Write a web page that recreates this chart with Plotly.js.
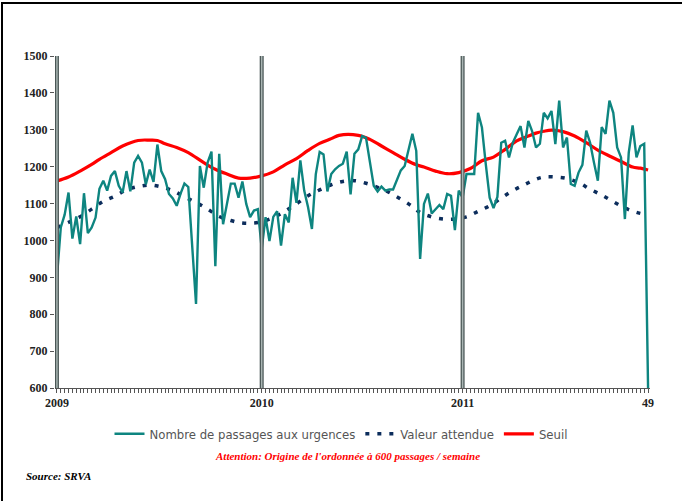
<!DOCTYPE html>
<html>
<head>
<meta charset="utf-8">
<script src="https://cdn.plot.ly/plotly-3.0.1.min.js"></script>
<style>
  html, body { margin: 0; padding: 0; background: #fff; }
  #wrap { position: relative; width: 682px; height: 501px; }
  #chart { width: 682px; height: 501px; }
  #frame { position: absolute; left: 1px; top: 2px; width: 681px; height: 499px;
           border-top: 2px solid #000; border-left: 2px solid #000; pointer-events: none; box-sizing: border-box; }
</style>
</head>
<body>
<div id="wrap">
  <div id="chart"></div>
  <div id="frame"></div>
</div>
<script>
// Weekly number of emergency visits, 2009 week 1 to 2011 week 49 (154 weeks)
const visits = [
  900, 1035, 1070, 1130, 1005, 1065, 990, 1128, 1020, 1035,
  1062, 1140, 1162, 1135, 1175, 1188, 1148, 1130, 1188, 1133,
  1211, 1229, 1211, 1152, 1192, 1159, 1260, 1188, 1166, 1126,
  1114, 1094, 1127, 1154, 1145, 1000, 828, 1202, 1143, 1211,
  1241, 930, 1235, 1044, 1094, 1154, 1154, 1116, 1160, 1099,
  1063, 1081, 1085, 977, 1063, 998, 1064, 1079, 986, 1071,
  1049, 1170, 1102, 1217, 1135, 1090, 1031, 1180, 1240, 1233,
  1133, 1180, 1193, 1202, 1208, 1241, 1125, 1235, 1247, 1283,
  1278, 1206, 1148, 1133, 1146, 1135, 1138, 1138, 1163, 1190,
  1202, 1243, 1289, 1243, 950, 1099, 1127, 1073, 1085, 1096,
  1085, 1126, 1121, 1028, 1135, 1116, 1180, 1180, 1180, 1346,
  1306, 1206, 1116, 1088, 1118, 1265, 1270, 1225, 1265, 1288,
  1310, 1252, 1324, 1296, 1252, 1262, 1346, 1331, 1351, 1261,
  1379, 1252, 1279, 1153, 1148, 1184, 1205, 1298, 1265, 1211,
  1162, 1307, 1289, 1379, 1346, 1252, 1225, 1058, 1238, 1312,
  1225, 1256, 1262, 600
];

// Threshold (Seuil), read at these week indices
const seuilWeeks = [0, 3, 6, 9, 11, 14, 17, 21, 24, 26, 28, 31, 34, 38, 41, 44, 47, 50, 53, 56,
  59, 62, 65, 68, 71, 73, 78, 81, 84, 87, 90, 93, 95, 98, 101, 104, 107, 110, 113, 116,
  119, 122, 124, 126, 128, 131, 134, 137, 140, 143, 146, 149, 151, 153];
const seuilValues = [1161, 1172, 1188, 1206, 1220, 1238, 1256, 1271, 1272, 1271, 1262, 1252, 1238, 1211, 1193, 1180, 1169, 1169, 1175, 1186,
  1205, 1222, 1244, 1263, 1276, 1285, 1285, 1274, 1256, 1238, 1220, 1205, 1199, 1188, 1181, 1184, 1195, 1216, 1226, 1247,
  1270, 1283, 1291, 1296, 1299, 1295, 1283, 1265, 1245, 1229, 1214, 1199, 1196, 1191];

// Expected value (Valeur attendue), read at these week indices
const attWeeks = [0, 3, 6, 9, 12, 15, 18, 21, 24, 27, 30, 33, 36, 39, 42, 45, 48, 51, 53, 56,
  59, 62, 65, 68, 71, 74, 77, 80, 83, 86, 89, 92, 94, 97, 100, 103, 106, 109, 112, 115,
  118, 121, 124, 126, 129, 132, 135, 138, 141, 144, 147, 150, 153];
const attValues = [1035, 1049, 1064, 1085, 1106, 1120, 1137, 1146, 1150, 1145, 1135, 1118, 1103, 1085, 1065, 1054, 1047, 1047, 1051, 1062,
  1079, 1099, 1121, 1137, 1151, 1160, 1162, 1155, 1144, 1130, 1112, 1092, 1076, 1064, 1058, 1058, 1064, 1079, 1094, 1115,
  1135, 1151, 1166, 1172, 1172, 1168, 1157, 1139, 1123, 1105, 1088, 1076, 1069];

// x-axis labels
const labelWeeks = [0, 53, 105, 153];
const labelTexts = ['2009', '2010', '2011', '49'];
const yearStarts = [0, 53, 105];

const seriesNames = ['Nombre de passages aux urgences', 'Valeur attendue', 'Seuil'];

const weekIdx = visits.map((_, i) => i);
const tickText = weekIdx.map(i => { const k = labelWeeks.indexOf(i); return k >= 0 ? labelTexts[k] : ''; });

const traces = [
  { x: seuilWeeks, y: seuilValues, name: seriesNames[2], type: 'scatter', mode: 'lines',
    line: { color: '#ff0000', width: 3.2, shape: 'spline', smoothing: 1 }, legendrank: 3 },
  { x: attWeeks, y: attValues, name: seriesNames[1], type: 'scatter', mode: 'lines',
    line: { color: '#0c2d5c', width: 3.5, dash: '4px,8px', shape: 'spline', smoothing: 1 }, legendrank: 2 },
  { x: weekIdx, y: visits, name: seriesNames[0], type: 'scatter', mode: 'lines',
    line: { color: '#0e8580', width: 2.4 }, legendrank: 1 }
];

const shapes = [];
yearStarts.forEach(w => {
  shapes.push({ type: 'line', xref: 'x', yref: 'paper', x0: w, x1: w, y0: 0, y1: 1, layer: 'above',
    line: { color: '#4a5756', width: 4 } });
  shapes.push({ type: 'line', xref: 'x', yref: 'paper', x0: w, x1: w, y0: 0, y1: 1, layer: 'above',
    line: { color: '#a9b5b3', width: 1.5 } });
});

const layout = {
  width: 682, height: 501,
  margin: { l: 55, r: 32, t: 56, b: 113 },
  paper_bgcolor: '#ffffff', plot_bgcolor: '#ffffff',
  showlegend: true,
  xaxis: {
    range: [-0.5, 153.5], showgrid: false, zeroline: false,
    showline: true, linecolor: '#555', linewidth: 1,
    tickmode: 'array', tickvals: weekIdx, ticktext: tickText,
    ticks: 'outside', ticklen: 4, tickwidth: 1, tickcolor: '#555',
    tickfont: { family: 'Liberation Serif, serif', size: 12, color: '#222', weight: 'bold' }
  },
  yaxis: {
    range: [600, 1500], dtick: 100, tick0: 600, showgrid: false, zeroline: false,
    showline: false, ticks: 'outside', ticklen: 4, tickwidth: 1, tickcolor: '#555',
    tickfont: { family: 'Liberation Serif, serif', size: 12, color: '#222', weight: 'bold' }
  },
  legend: {
    orientation: 'h', xref: 'container', yref: 'container',
    x: 0.5, xanchor: 'center', y: 0.134, yanchor: 'middle',
    font: { family: 'DejaVu Sans Condensed, Open Sans, sans-serif', size: 13, color: '#555' },
    bgcolor: 'rgba(0,0,0,0)'
  },
  shapes: shapes,
  annotations: [
    { xref: 'paper', yref: 'paper', x: 0.4924, y: -0.2048, xanchor: 'center', yanchor: 'middle',
      showarrow: false, text: "Attention: Origine de l'ordonnée à 600 passages / semaine",
      font: { family: 'Liberation Serif, serif', size: 11, color: '#ff0000', weight: 'bold', style: 'italic' } },
    { xref: 'paper', yref: 'paper', x: -0.0521, y: -0.265, xanchor: 'left', yanchor: 'middle',
      showarrow: false, text: 'Source: SRVA',
      font: { family: 'Liberation Serif, serif', size: 11, color: '#000', weight: 'bold', style: 'italic' } }
  ]
};

Plotly.newPlot('chart', traces, layout, { displayModeBar: false, staticPlot: true });
</script>
</body>
</html>
